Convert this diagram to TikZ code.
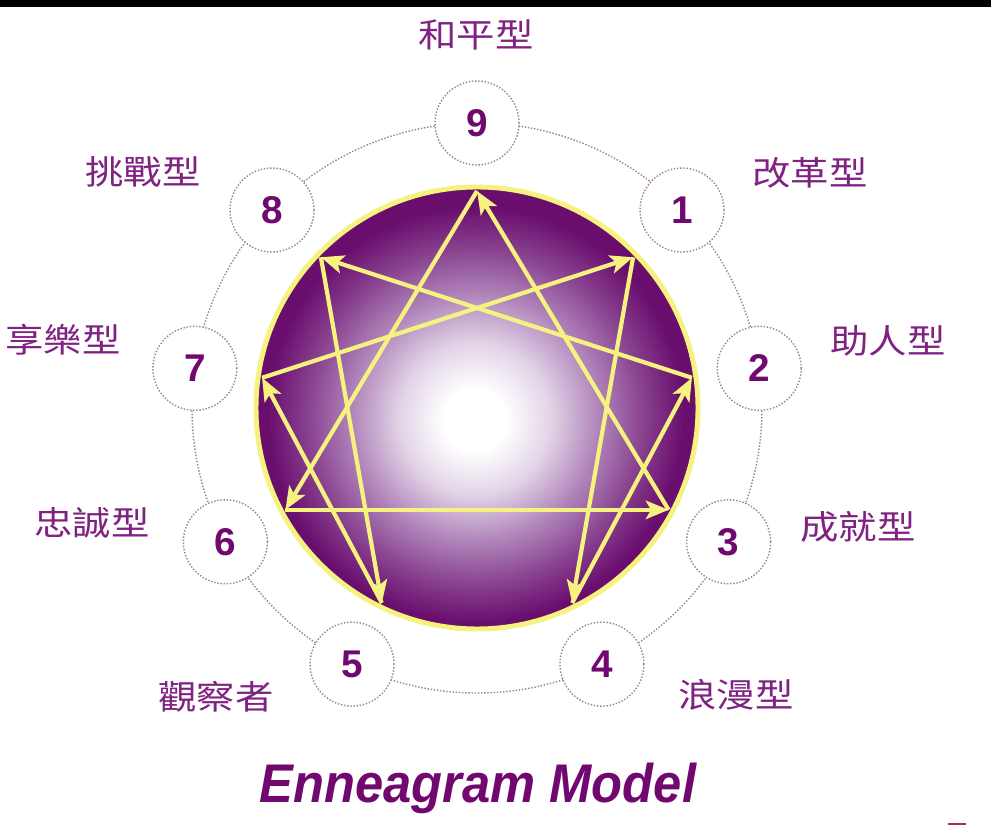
\documentclass[tikz,border=0pt]{standalone}
\usepackage{graphicx}
\usepackage{fontspec}
\setmainfont{Liberation Sans}
\newfontfamily\cjk{Noto Sans CJK TC}
\usetikzlibrary{arrows.meta}

\definecolor{sphpurple}{RGB}{106,14,110}
\definecolor{sphdeep}{RGB}{136,66,143}
\definecolor{sphmid}{RGB}{176,132,186}
\definecolor{sphlight}{RGB}{226,212,231}
\definecolor{ylw}{RGB}{246,242,128}
\definecolor{txtpurple}{RGB}{128,34,130}
\definecolor{numpurple}{RGB}{112,8,112}
\definecolor{ringgray}{RGB}{160,125,160}
\definecolor{dashmag}{RGB}{175,40,105}

\pgfdeclareradialshading{purplesphere}{\pgfpoint{-0.3bp}{-1.5bp}}{color(0bp)=(white); color(3.5bp)=(white); color(8.5bp)=(sphlight); color(14bp)=(sphmid); color(19bp)=(sphdeep); color(23.5bp)=(sphpurple); color(50bp)=(sphpurple)}

\begin{document}
\begin{tikzpicture}[x=0.02cm, y=0.02cm,
  numring/.style={circle, draw=ringgray, densely dotted, line width=0.8pt, fill=white,
    minimum size=1.68cm, inner sep=0pt, text=numpurple,
    font=\fontsize{22}{22}\selectfont\bfseries},
  typelabel/.style={text=txtpurple, inner sep=0pt},
  pathline/.style={ylw, line width=2.4pt, -{Stealth[length=13pt, width=10.5pt, inset=3pt]}}]
\useasboundingbox (0,0) rectangle (991,828);
\fill[white] (0,0) rectangle (991,828);
\fill[black] (0,821) rectangle (991,828);

\begin{scope}[shift={(477,420)}]
% dotted ring and the nine numbers
\draw[ringgray, densely dotted, line width=0.8pt] (0,0) circle (285);
\node[numring] (n9) at (90:285) {9};
\node[numring] (n1) at (44:285) {1};
\node[numring] (n2) at (8:285) {2};
\node[numring] (n3) at (-28:285) {3};
\node[numring] (n4) at (-64:285) {4};
\node[numring] (n5) at (-116:285) {5};
\node[numring] (n6) at (-152:285) {6};
\node[numring] (n7) at (172:285) {7};
\node[numring] (n8) at (136:285) {8};

% the sphere
\shade[shading=purplesphere, draw=ylw, line width=2.8pt] (0,0) circle (221);
\coordinate (p9) at (90:217);
\coordinate (p1) at (44:217);
\coordinate (p2) at (8:217);
\coordinate (p3) at (-28:217);
\coordinate (p4) at (-64:217);
\coordinate (p5) at (-116:217);
\coordinate (p6) at (-152:217);
\coordinate (p7) at (172:217);
\coordinate (p8) at (136:217);

\draw[pathline] (p9) -- (p6);
\draw[pathline] (p6) -- (p3);
\draw[pathline] (p3) -- (p9);
\draw[pathline] (p1) -- (p4);
\draw[pathline] (p4) -- (p2);
\draw[pathline] (p2) -- (p8);
\draw[pathline] (p8) -- (p5);
\draw[pathline] (p5) -- (p7);
\draw[pathline] (p7) -- (p1);
\end{scope}

% type names
\begin{scope}[font=\cjk\fontsize{19}{22}\selectfont]
\node[typelabel] (t9) at (476,793) {\scalebox{1.15}[1]{和平型}};
\node[typelabel] (t1) at (810,655) {\scalebox{1.15}[1]{改革型}};
\node[typelabel] (t2) at (888,487) {\scalebox{1.15}[1]{助人型}};
\node[typelabel] (t3) at (858,301) {\scalebox{1.15}[1]{成就型}};
\node[typelabel] (t4) at (736,133) {\scalebox{1.15}[1]{浪漫型}};
\node[typelabel] (t5) at (216,131) {\scalebox{1.15}[1]{觀察者}};
\node[typelabel] (t6) at (92,305) {\scalebox{1.15}[1]{忠誠型}};
\node[typelabel] (t7) at (63,488) {\scalebox{1.15}[1]{享樂型}};
\node[typelabel] (t8) at (143,656) {\scalebox{1.15}[1]{挑戰型}};
\end{scope}

\node[anchor=base, text=numpurple, font=\fontsize{31}{31}\selectfont\bfseries\itshape] (title) at (478,25) {\scalebox{0.93}[1]{Enneagram Model}};
\draw[dashmag, line width=1.2pt] (948,4) -- (966,4);
\end{tikzpicture}
\end{document}
